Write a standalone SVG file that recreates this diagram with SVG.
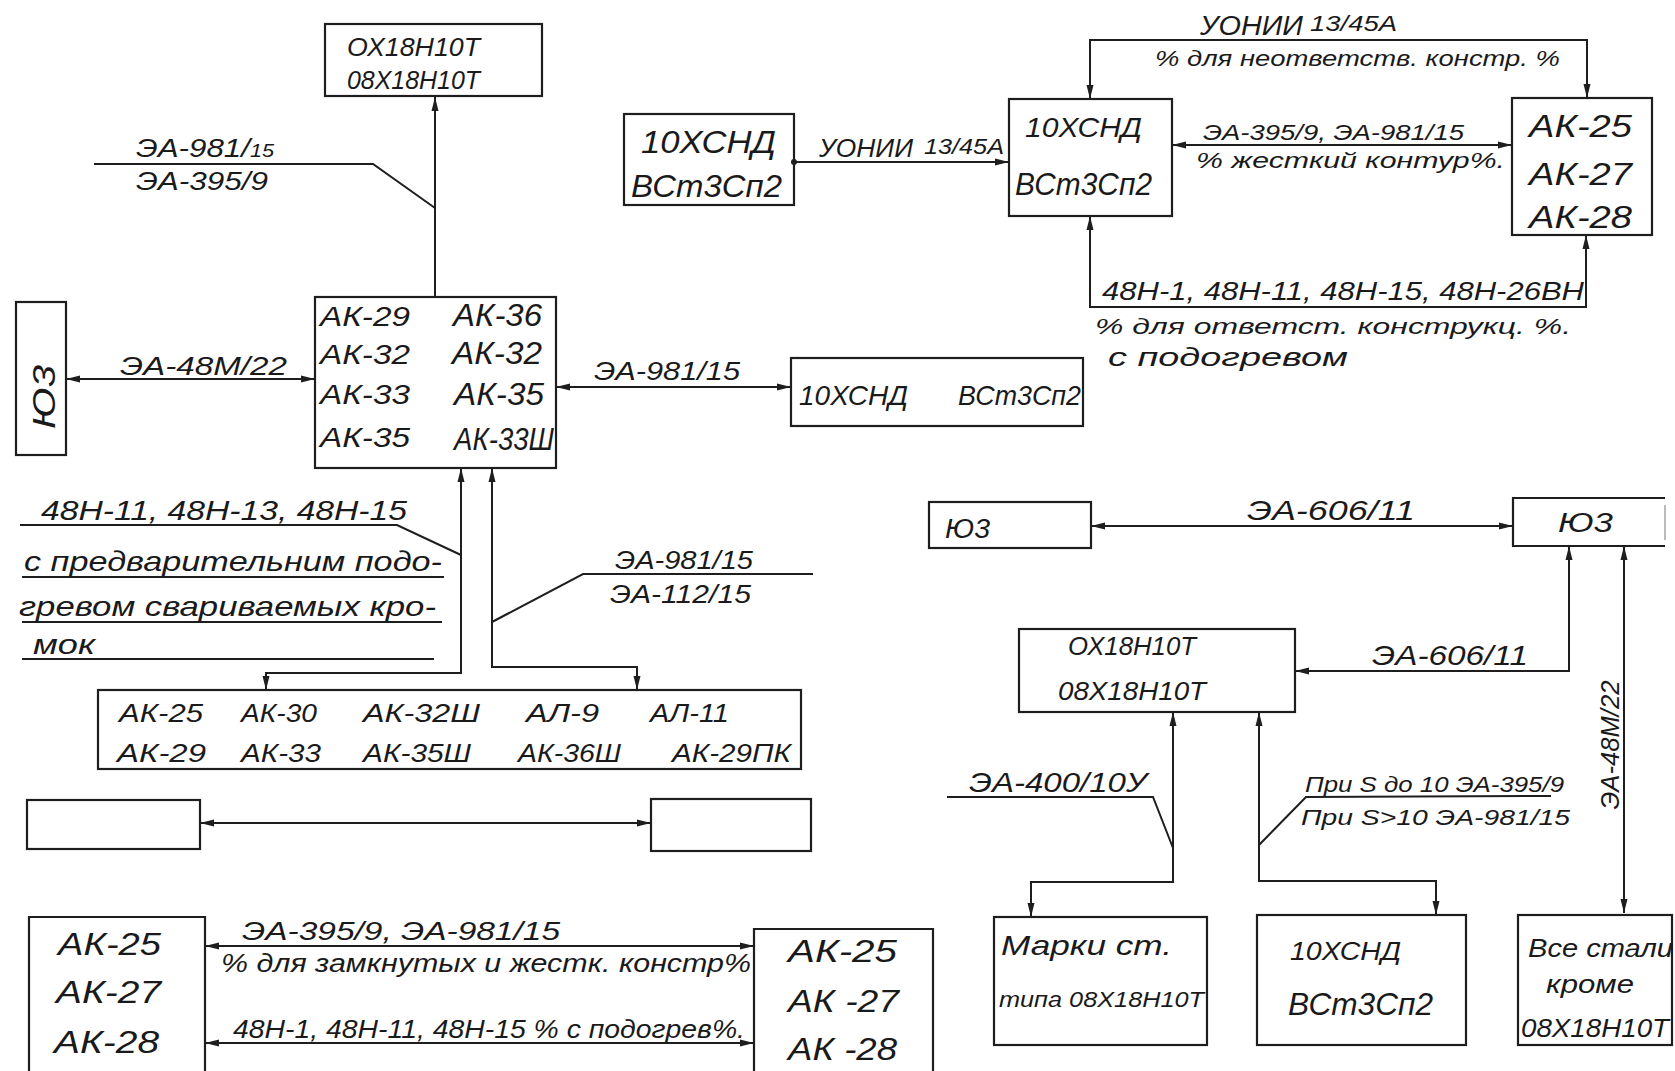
<svg xmlns="http://www.w3.org/2000/svg" width="1675" height="1071" viewBox="0 0 1675 1071">
<defs>
<style>
.b{fill:none;stroke:#1e1e1e;stroke-width:2.2}
.l{fill:none;stroke:#1e1e1e;stroke-width:2}
.a{marker-end:url(#ah)}
.aa{marker-start:url(#ah);marker-end:url(#ah)}
text{font-family:"Liberation Sans","DejaVu Sans",sans-serif;font-style:italic;fill:#1a1a1a;font-size:26px}
.s{font-size:22px}
.m{font-size:28px}
.L{font-size:32px}
</style>
<marker id="ah" viewBox="0 0 14 8" refX="14" refY="4" markerWidth="14" markerHeight="8" orient="auto-start-reverse" markerUnits="userSpaceOnUse"><path d="M0,0.5 L14,4 L0,7.5 z" fill="#1e1e1e"/></marker>
<marker id="dot" viewBox="0 0 6 6" refX="3" refY="3" markerWidth="6" markerHeight="6" markerUnits="userSpaceOnUse"><circle cx="3" cy="3" r="3" fill="#1e1e1e"/></marker>
</defs>
<rect width="1675" height="1071" fill="#ffffff"/>

<g id="connectors">
<line class="l a" x1="435" y1="297" x2="435" y2="97"/>
<polyline class="l" points="94,164 373,164 435,208"/>
<line class="l aa" x1="66" y1="379" x2="315" y2="379"/>
<line class="l aa" x1="556" y1="387" x2="791" y2="387"/>
<path class="l aa" d="M266,690 V673 H461 V468"/>
<path class="l aa" d="M637,690 V667 H492 V468"/>
<polyline class="l" points="20,525 397,525 461,555"/>
<line class="l" x1="22" y1="577" x2="444" y2="577"/>
<line class="l" x1="22" y1="622" x2="442" y2="622"/>
<line class="l" x1="22" y1="659" x2="434" y2="659"/>
<polyline class="l" points="813,574 583,574 492,622"/>
<line class="l aa" x1="200" y1="823" x2="651" y2="823"/>
<line class="l aa" x1="205" y1="946" x2="754" y2="946"/>
<line class="l aa" x1="205" y1="1043" x2="754" y2="1043"/>
<path class="l aa" d="M1090,99 V40 H1587 V98"/>
<line class="l a" x1="794" y1="162" x2="1009" y2="162" style="marker-start:url(#dot)"/>
<line class="l aa" x1="1172" y1="145" x2="1512" y2="145"/>
<path class="l aa" d="M1090,216 V307 H1586 V235"/>
<line class="l aa" x1="1091" y1="526" x2="1513" y2="526"/>
<path class="l aa" d="M1569,546 V671 H1295"/>
<line class="l aa" x1="1624" y1="546" x2="1624" y2="913"/>
<path class="l aa" d="M1031,917 V882 H1173 V712"/>
<polyline class="l" points="947,797 1153,797 1173,848"/>
<path class="l aa" d="M1436,915 V881 H1259 V712"/>
<polyline class="l" points="1551,796 1306,797 1259,845"/>
</g>

<g id="labels">
<text x="136" y="157" textLength="138" lengthAdjust="spacingAndGlyphs">ЭА-981/<tspan font-size="18">15</tspan></text>
<text x="136" y="190" textLength="132" lengthAdjust="spacingAndGlyphs">ЭА-395/9</text>
<text x="120" y="375" textLength="167" lengthAdjust="spacingAndGlyphs">ЭА-48М/22</text>
<text x="594" y="380" textLength="146" lengthAdjust="spacingAndGlyphs">ЭА-981/15</text>
<text class="m" x="41" y="520" textLength="366" lengthAdjust="spacingAndGlyphs">48Н-11, 48Н-13, 48Н-15</text>
<text class="m" x="24" y="571" textLength="418" lengthAdjust="spacingAndGlyphs">с предварительним подо-</text>
<text class="m" x="19" y="616" textLength="417" lengthAdjust="spacingAndGlyphs">гревом свариваемых кро-</text>
<text class="m" x="33" y="654" textLength="62" lengthAdjust="spacingAndGlyphs">мок</text>
<text x="615" y="569" textLength="138" lengthAdjust="spacingAndGlyphs">ЭА-981/15</text>
<text x="610" y="603" textLength="141" lengthAdjust="spacingAndGlyphs">ЭА-112/15</text>
<text class="m" x="1200" y="35" textLength="103" lengthAdjust="spacingAndGlyphs">УОНИИ</text>
<text class="s" x="1310" y="31" textLength="87" lengthAdjust="spacingAndGlyphs">13/45А</text>
<text class="s" x="1155" y="66" textLength="405" lengthAdjust="spacingAndGlyphs">% для неответств. констр. %</text>
<text x="819" y="157" textLength="94" lengthAdjust="spacingAndGlyphs">УОНИИ</text>
<text class="s" x="924" y="154" textLength="80" lengthAdjust="spacingAndGlyphs">13/45А</text>
<text class="s" x="1203" y="140" textLength="261" lengthAdjust="spacingAndGlyphs">ЭА-395/9, ЭА-981/15</text>
<text class="s" x="1196" y="168" textLength="309" lengthAdjust="spacingAndGlyphs">% жесткий контур%.</text>
<text x="1102" y="300" textLength="482" lengthAdjust="spacingAndGlyphs">48Н-1, 48Н-11, 48Н-15, 48Н-26ВН</text>
<text class="s" x="1095" y="334" textLength="476" lengthAdjust="spacingAndGlyphs">% для ответст. конструкц. %.</text>
<text x="1108" y="366" font-size="24" textLength="240" lengthAdjust="spacingAndGlyphs">с подогревом</text>
<text class="m" x="1247" y="520" textLength="168" lengthAdjust="spacingAndGlyphs">ЭА-606/11</text>
<text class="m" x="1372" y="665" textLength="156" lengthAdjust="spacingAndGlyphs">ЭА-606/11</text>
<text class="m" x="969" y="792" textLength="178" lengthAdjust="spacingAndGlyphs">ЭА-400/10У</text>
<text class="s" x="1305" y="792" textLength="259" lengthAdjust="spacingAndGlyphs">При S до 10 ЭА-395/9</text>
<text class="s" x="1301" y="825" textLength="269" lengthAdjust="spacingAndGlyphs">При S&gt;10 ЭА-981/15</text>
<text transform="translate(1619,745) rotate(-90)" text-anchor="middle" textLength="129" lengthAdjust="spacingAndGlyphs">ЭА-48М/22</text>
<text x="242" y="940" textLength="318" lengthAdjust="spacingAndGlyphs">ЭА-395/9, ЭА-981/15</text>
<text x="221" y="972" textLength="530" lengthAdjust="spacingAndGlyphs">% для замкнутых и жестк. констр%</text>
<text x="233" y="1038" textLength="512" lengthAdjust="spacingAndGlyphs">48Н-1, 48Н-11, 48Н-15 % с подогрев%.</text>
</g>

<g id="n-ox-top">
<rect class="b" x="325" y="24" width="217" height="72"/>
<text x="347" y="56" textLength="133" lengthAdjust="spacingAndGlyphs">ОХ18Н10Т</text>
<text x="347" y="89" textLength="133" lengthAdjust="spacingAndGlyphs">08Х18Н10Т</text>
</g>

<g id="n-ak-main">
<rect class="b" x="315" y="297" width="241" height="171"/>
<text class="m" x="320" y="326" textLength="90" lengthAdjust="spacingAndGlyphs">АК-29</text>
<text class="m" x="320" y="364" textLength="90" lengthAdjust="spacingAndGlyphs">АК-32</text>
<text class="m" x="320" y="404" textLength="90" lengthAdjust="spacingAndGlyphs">АК-33</text>
<text class="m" x="320" y="447" textLength="90" lengthAdjust="spacingAndGlyphs">АК-35</text>
<text class="L" x="453" y="326" textLength="89" lengthAdjust="spacingAndGlyphs">АК-36</text>
<text class="L" x="452" y="364" textLength="90" lengthAdjust="spacingAndGlyphs">АК-32</text>
<text class="L" x="454" y="405" textLength="90" lengthAdjust="spacingAndGlyphs">АК-35</text>
<text class="L" x="454" y="450" textLength="100" lengthAdjust="spacingAndGlyphs">АК-33Ш</text>
</g>

<g id="n-yu3-left">
<rect class="b" x="16" y="302" width="50" height="153"/>
<text class="L" transform="translate(55,397) rotate(-90)" text-anchor="middle" textLength="64" lengthAdjust="spacingAndGlyphs">Ю3</text>
</g>

<g id="n-snd-1">
<rect class="b" x="624" y="114" width="170" height="91"/>
<text class="L" x="641" y="153" textLength="135" lengthAdjust="spacingAndGlyphs">10ХСНД</text>
<text class="L" x="631" y="197" textLength="151" lengthAdjust="spacingAndGlyphs">ВСт3Сп2</text>
</g>

<g id="n-snd-2">
<rect class="b" x="1009" y="99" width="163" height="117"/>
<text class="m" x="1025" y="137" textLength="117" lengthAdjust="spacingAndGlyphs">10ХСНД</text>
<text class="L" x="1015" y="195" textLength="137" lengthAdjust="spacingAndGlyphs">ВСт3Сп2</text>
</g>

<g id="n-ak-tr">
<rect class="b" x="1512" y="98" width="140" height="137"/>
<text class="L" x="1529" y="137" textLength="103" lengthAdjust="spacingAndGlyphs">АК-25</text>
<text class="L" x="1529" y="185" textLength="103" lengthAdjust="spacingAndGlyphs">АК-27</text>
<text class="L" x="1529" y="228" textLength="103" lengthAdjust="spacingAndGlyphs">АК-28</text>
</g>

<g id="n-snd-3">
<rect class="b" x="791" y="358" width="292" height="68"/>
<text class="m" x="799" y="405" textLength="109" lengthAdjust="spacingAndGlyphs">10ХСНД</text>
<text class="m" x="958" y="405" textLength="123" lengthAdjust="spacingAndGlyphs">ВСт3Сп2</text>
</g>

<g id="n-list">
<rect class="b" x="98" y="690" width="703" height="79"/>
<text x="119" y="722" textLength="84" lengthAdjust="spacingAndGlyphs">АК-25</text>
<text x="241" y="722" textLength="76" lengthAdjust="spacingAndGlyphs">АК-30</text>
<text x="363" y="722" textLength="117" lengthAdjust="spacingAndGlyphs">АК-32Ш</text>
<text x="526" y="722" textLength="73" lengthAdjust="spacingAndGlyphs">АЛ-9</text>
<text x="650" y="722" textLength="79" lengthAdjust="spacingAndGlyphs">АЛ-11</text>
<text x="117" y="762" textLength="89" lengthAdjust="spacingAndGlyphs">АК-29</text>
<text x="241" y="762" textLength="80" lengthAdjust="spacingAndGlyphs">АК-33</text>
<text x="363" y="762" textLength="108" lengthAdjust="spacingAndGlyphs">АК-35Ш</text>
<text x="518" y="762" textLength="103" lengthAdjust="spacingAndGlyphs">АК-36Ш</text>
<text x="672" y="762" textLength="119" lengthAdjust="spacingAndGlyphs">АК-29ПК</text>
</g>

<g id="n-empty-left">
<rect class="b" x="27" y="800" width="173" height="49"/>
</g>
<g id="n-empty-right">
<rect class="b" x="651" y="799" width="160" height="52"/>
</g>

<g id="n-ak-bl">
<path class="b" d="M29,1075 V917 H205 V1075"/>
<text class="L" x="58" y="955" textLength="103" lengthAdjust="spacingAndGlyphs">АК-25</text>
<text class="L" x="56" y="1003" textLength="105" lengthAdjust="spacingAndGlyphs">АК-27</text>
<text class="L" x="54" y="1053" textLength="105" lengthAdjust="spacingAndGlyphs">АК-28</text>
</g>

<g id="n-ak-br">
<path class="b" d="M754,1075 V929 H933 V1075"/>
<text class="L" x="788" y="962" textLength="109" lengthAdjust="spacingAndGlyphs">АК-25</text>
<text class="L" x="788" y="1012" textLength="111" lengthAdjust="spacingAndGlyphs">АК -27</text>
<text class="L" x="788" y="1060" textLength="109" lengthAdjust="spacingAndGlyphs">АК -28</text>
</g>

<g id="n-yu3-mid">
<rect class="b" x="929" y="502" width="162" height="46"/>
<text class="m" x="945" y="538" textLength="45" lengthAdjust="spacingAndGlyphs">Ю3</text>
</g>

<g id="n-yu3-right">
<path class="b" d="M1665,498 H1513 V546 H1665"/>
<line x1="1665" y1="505" x2="1665" y2="540" stroke="#bbbbbb" stroke-width="2"/>
<text class="m" x="1558" y="532" textLength="55" lengthAdjust="spacingAndGlyphs">Ю3</text>
</g>

<g id="n-ox-mid">
<rect class="b" x="1019" y="629" width="276" height="83"/>
<text x="1068" y="655" textLength="128" lengthAdjust="spacingAndGlyphs">ОХ18Н10Т</text>
<text x="1058" y="700" textLength="148" lengthAdjust="spacingAndGlyphs">08Х18Н10Т</text>
</g>

<g id="n-marki">
<rect class="b" x="994" y="917" width="213" height="128"/>
<text class="m" x="1001" y="955" textLength="171" lengthAdjust="spacingAndGlyphs">Марки ст.</text>
<text class="s" x="999" y="1007" textLength="205" lengthAdjust="spacingAndGlyphs">типа 08Х18Н10Т</text>
</g>

<g id="n-snd-4">
<rect class="b" x="1257" y="915" width="209" height="130"/>
<text x="1290" y="960" textLength="111" lengthAdjust="spacingAndGlyphs">10ХСНД</text>
<text class="L" x="1288" y="1015" textLength="145" lengthAdjust="spacingAndGlyphs">ВСт3Сп2</text>
</g>

<g id="n-vse">
<rect class="b" x="1518" y="915" width="154" height="130"/>
<text x="1528" y="957" textLength="145" lengthAdjust="spacingAndGlyphs">Все стали</text>
<text x="1546" y="993" textLength="88" lengthAdjust="spacingAndGlyphs">кроме</text>
<text x="1521" y="1037" textLength="148" lengthAdjust="spacingAndGlyphs">08Х18Н10Т</text>
</g>
</svg>
